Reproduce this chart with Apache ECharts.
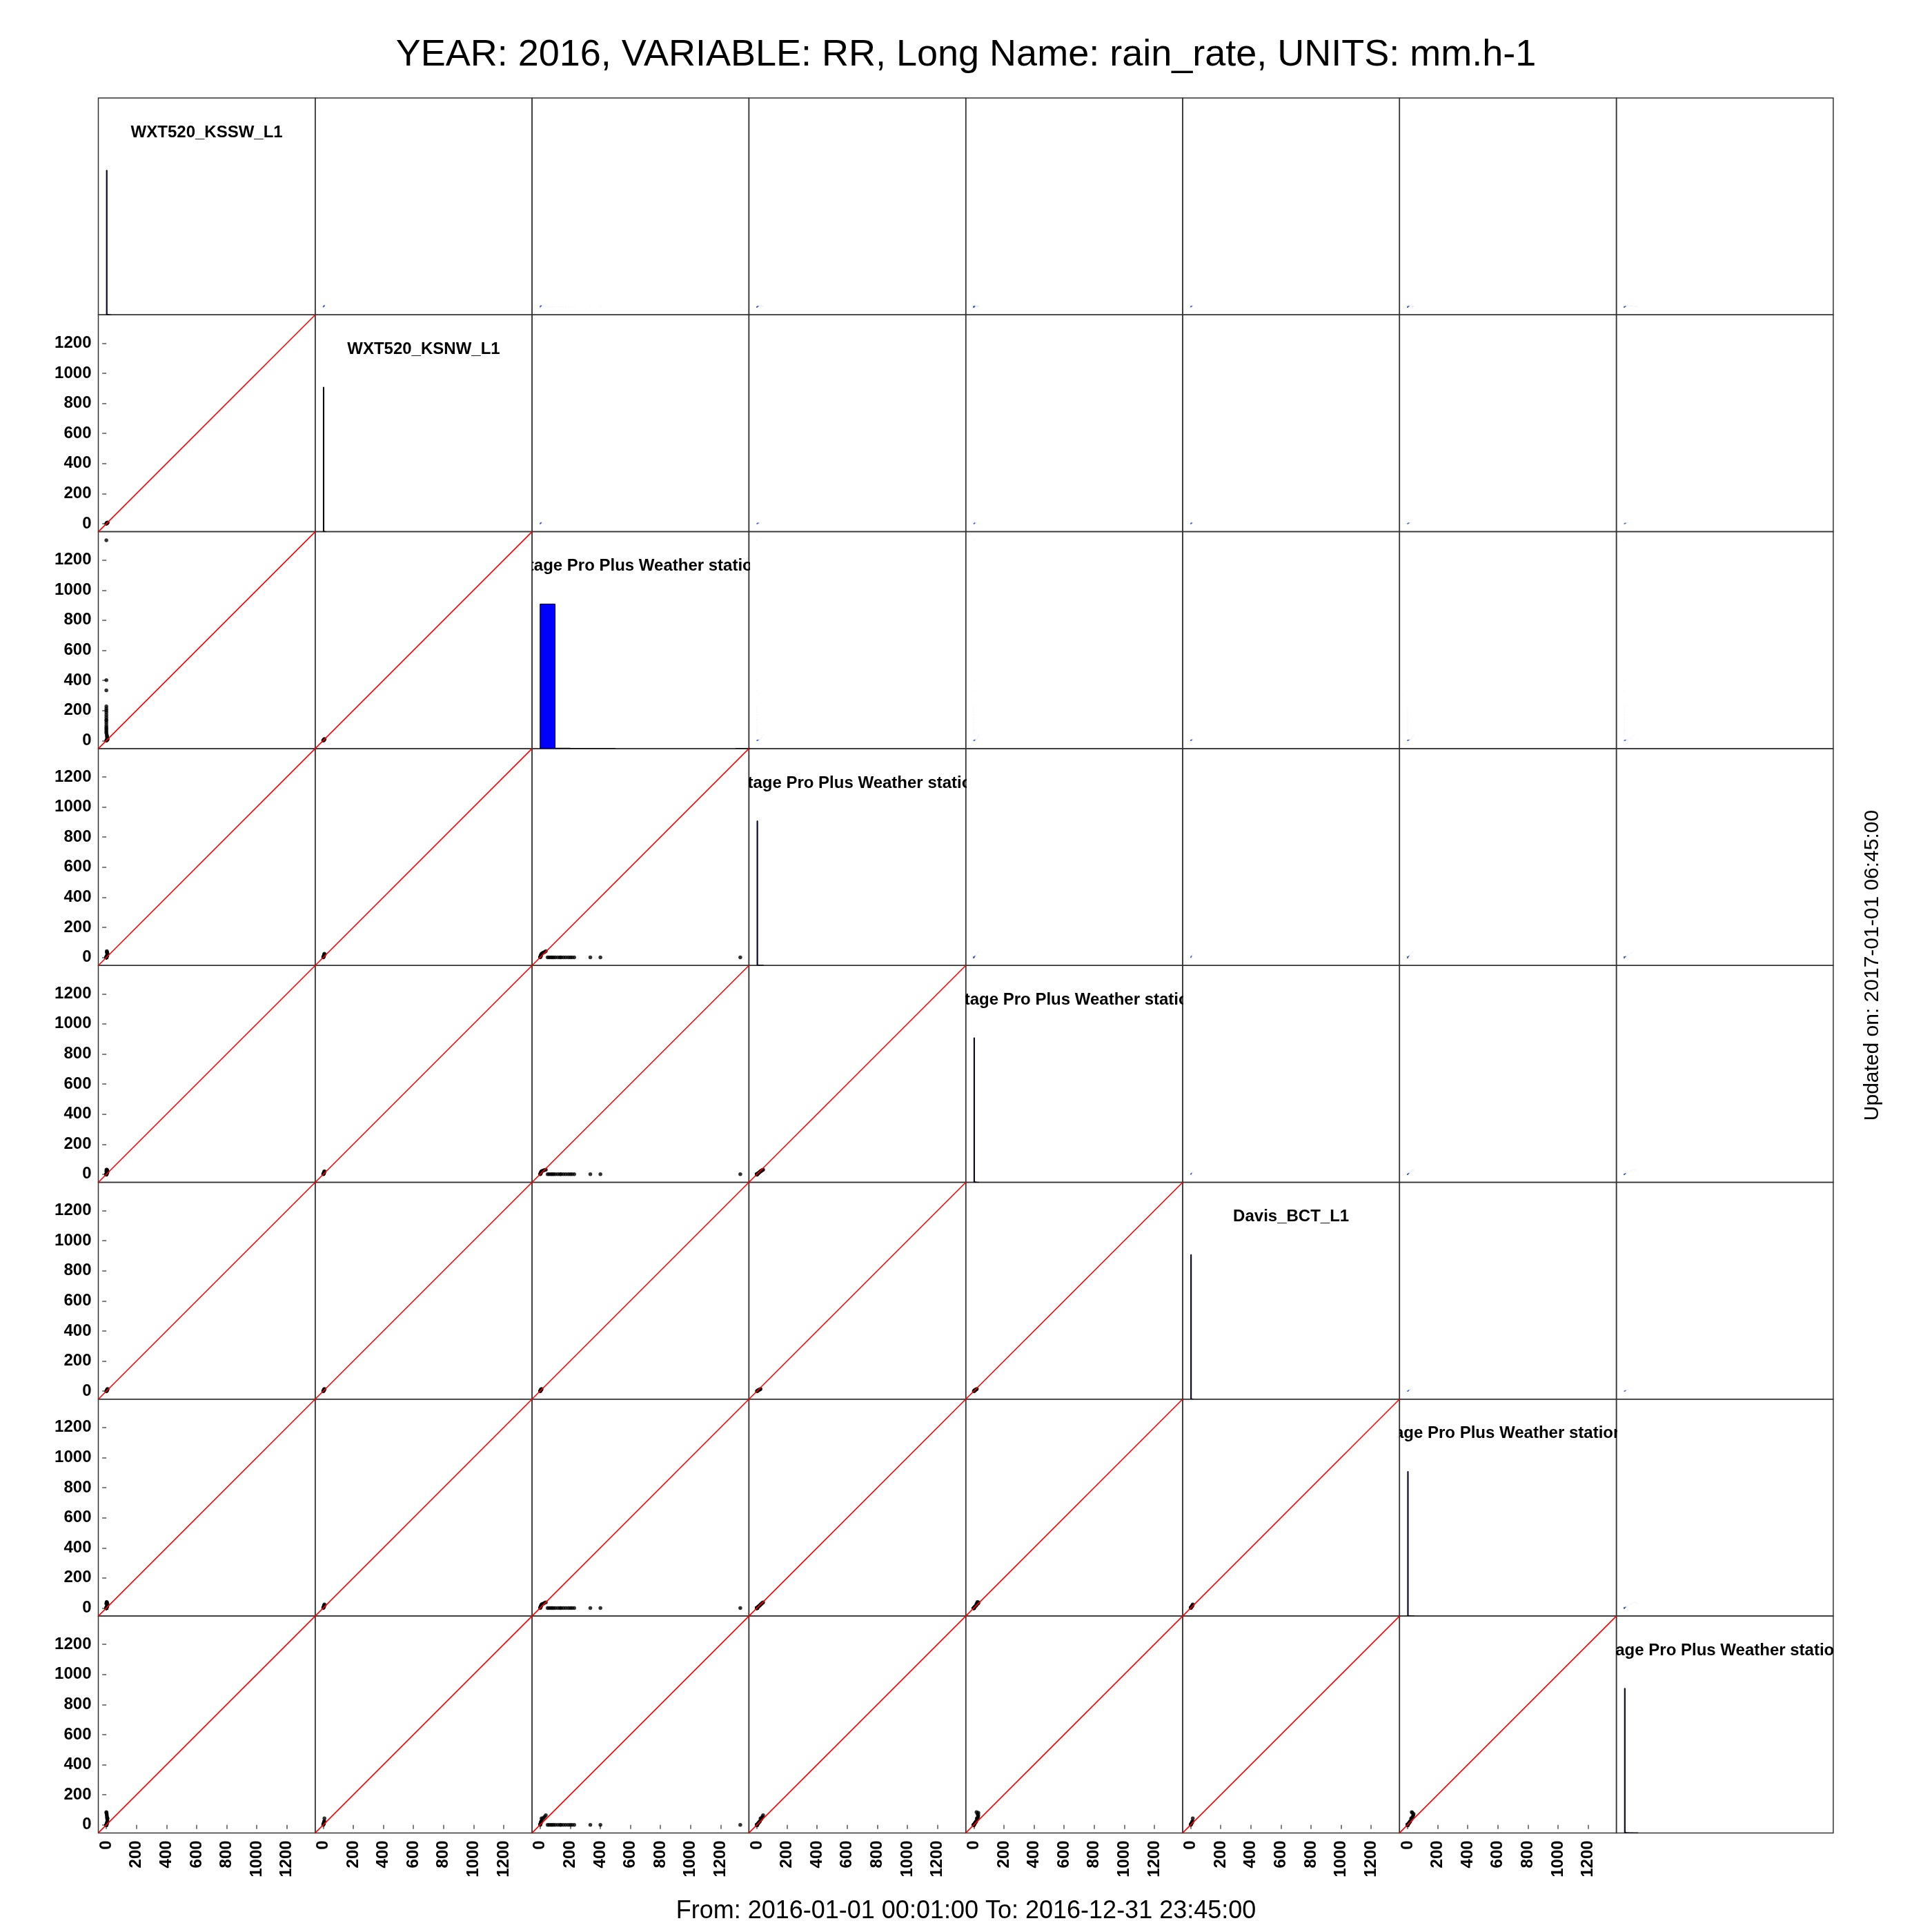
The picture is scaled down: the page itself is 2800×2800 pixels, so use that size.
<!DOCTYPE html>
<html><head><meta charset="utf-8">
<script src="https://cdn.jsdelivr.net/npm/echarts@6/dist/echarts.min.js"></script>
<style>html,body{margin:0;padding:0;background:#fff}#c{width:2800px;height:2800px}</style>
</head><body><div id="c"></div>
<script>
// ---- labels ----
const mainTitle = 'YEAR: 2016, VARIABLE: RR, Long Name: rain_rate, UNITS: mm.h-1';
const footerText = 'From: 2016-01-01 00:01:00 To: 2016-12-31 23:45:00';
const sideText = 'Updated on: 2017-01-01 06:45:00';
const stationNames = [
  'WXT520_KSSW_L1',
  'WXT520_KSNW_L1',
  'Davis Vantage Pro Plus Weather station_IMU_L1',
  'Davis Vantage Pro Plus Weather station_ISL_L1',
  'Davis Vantage Pro Plus Weather station_MR_L1',
  'Davis_BCT_L1',
  'Davis Vantage Pro Plus Weather station_BFCL_L1',
  'Davis Vantage Pro Plus Weather station_RGS_L1'
];
const tickValues = [0, 200, 400, 600, 800, 1000, 1200];
const axisMin = -53.4, axisMax = 1388.4;   // data range 0..1335 extended by 4%

// ---- rain rate samples (mm/h), one entry per time step, null = missing ----
const rrKSSW  = [0,0,0,0,0,0,0,0,0,0,0,0,0,0,0,0,0,0,   0,1,2,3,4,5,6,7,8,6,5,4,3,2,1,0];
const rrKSNW  = [null,null,null,null,null,null,null,null,null,null,null,null,null,null,null,null,null,null,
                 0,1,2,3,4,5,6,7,8,null,null,null,null,null,null,null];
const rrIMU   = [1331,401,334,227,212,200,186,170,155,140,132,118,102,90,80,71,60,50,
                 0,1,2,3,4,5,6,8,10,15,22,30,38,null,null,null];
const rrISL   = [0,0,0,0,0,0,0,0,0,0,0,0,0,0,0,0,0,0,   0,2,4,6,9,12,16,20,24,28,32,36,41,null,null,null];
const rrMR    = [0,0,0,0,0,0,0,0,0,0,0,0,0,0,0,0,0,0,   0,2,3,5,7,10,13,16,20,22,26,28,30,24,30,18];
const rrBCT   = [null,null,null,null,null,null,null,null,null,null,null,null,null,null,null,null,null,null,
                 0,1,2,4,6,8,10,12,14,null,null,null,null,null,null,null];
const rrBFCL  = [0,0,0,0,0,0,0,0,0,0,0,0,0,0,0,0,0,0,   0,2,4,6,9,12,15,18,24,26,30,34,38,40,32,28];
const rrRGS   = [0,0,0,0,0,0,0,0,0,0,0,0,0,0,0,0,0,0,   0,2,5,8,12,16,20,25,44,38,46,54,64,72,80,85];

// ---- histograms on the diagonal: [binStart, binEnd, count / max count] ----
const histKSSW = [[0,5,1],[5,10,0.004],[10,15,0.002],[15,20,0.001],[20,30,0.0005]];
const histKSNW = [[0,5,1],[5,10,0.003],[10,15,0.001],[15,20,0.0005]];
const histIMU  = [[0,100,1],[100,200,0.003],[200,300,0.001],[300,400,0.0005],[400,500,0.0005],[1300,1400,0.0005]];
const histISL  = [[0,5,1],[5,10,0.004],[10,20,0.002],[20,30,0.001],[30,45,0.0005]];
const histMR   = [[0,5,1],[5,10,0.004],[10,20,0.002],[20,35,0.0005]];
const histBCT  = [[0,5,1],[5,10,0.003],[10,20,0.001]];
const histBFCL = [[0,5,1],[5,10,0.004],[10,20,0.002],[20,45,0.0005]];
const histRGS  = [[0,5,1],[5,10,0.005],[10,30,0.002],[30,60,0.001],[60,90,0.0005]];

const allSeries = [rrKSSW, rrKSNW, rrIMU, rrISL, rrMR, rrBCT, rrBFCL, rrRGS];
const allHist = [histKSSW, histKSNW, histIMU, histISL, histMR, histBCT, histBFCL, histRGS];

// ---- layout ----
const N = 8, L0 = 142.5, T0 = 142, S = 314.3;
const FF = '"Liberation Sans", Arial, Helvetica, sans-serif';
const plain = function (v) { return String(v); };

function pairs(xs, ys) {
  const out = [];
  for (let i = 0; i < xs.length; i++) {
    if (xs[i] != null && ys[i] != null) out.push([xs[i], ys[i]]);
  }
  return out;
}

const grids = [], xAxes = [], yAxes = [], series = [];
for (let r = 0; r < N; r++) {
  for (let c = 0; c < N; c++) {
    const idx = r * N + c;
    grids.push({left: L0 + c * S, top: T0 + r * S, width: S, height: S,
      show: true, borderColor: '#333', borderWidth: 1.5, backgroundColor: 'transparent'});
    const showX = (r === N - 1 && c !== N - 1);
    const showY = (c === 0 && r >= 1);
    xAxes.push({gridIndex: idx, type: 'value', min: axisMin, max: axisMax,
      axisLine: {show: false}, splitLine: {show: false},
      axisTick: {show: showX, length: 6, lineStyle: {color: '#555', width: 1.5}, customValues: tickValues},
      axisLabel: {show: showX, customValues: tickValues, rotate: 90, margin: 11, formatter: plain,
        fontFamily: FF, fontWeight: 'bold', fontSize: 24, color: '#000'}});
    if (r === c) {
      yAxes.push({gridIndex: idx, type: 'value', min: 0, max: 1.5, show: false,
        splitLine: {show: false}});
    } else {
      yAxes.push({gridIndex: idx, type: 'value', min: axisMin, max: axisMax,
        axisLine: {show: false}, splitLine: {show: false},
        axisTick: {show: showY, length: 6, lineStyle: {color: '#555', width: 1.5}, customValues: tickValues},
        axisLabel: {show: showY, customValues: tickValues, margin: 10, formatter: plain,
          fontFamily: FF, fontWeight: 'bold', fontSize: 24, color: '#000'}});
    }

    if (r === c) {
      // histogram
      series.push({type: 'custom', xAxisIndex: idx, yAxisIndex: idx, silent: true, clip: true,
        data: allHist[r],
        renderItem: function (params, api) {
          const p0 = api.coord([api.value(0), api.value(2)]);
          const p1 = api.coord([api.value(1), 0]);
          return {type: 'rect',
            shape: {x: p0[0], y: p0[1], width: Math.max(p1[0] - p0[0], 0.5), height: p1[1] - p0[1]},
            style: {fill: '#0000ff', stroke: '#000', lineWidth: 1}};
        }});
      // station name (clipped to the panel)
      const nm = stationNames[r];
      series.push({type: 'custom', xAxisIndex: idx, yAxisIndex: idx, silent: true, clip: true,
        data: [[0, 0]],
        renderItem: function (params, api) {
          const cs = params.coordSys;
          return {type: 'text', x: cs.x + cs.width / 2, y: cs.y + 50,
            style: {text: nm, fill: '#000', font: 'bold 24px ' + FF,
              align: 'center', verticalAlign: 'middle', textAlign: 'center', textVerticalAlign: 'middle'}};
        }});
    } else if (r > c) {
      series.push({type: 'scatter', xAxisIndex: idx, yAxisIndex: idx, silent: true,
        symbol: 'circle', symbolSize: 5.5, itemStyle: {color: '#000'},
        data: pairs(allSeries[c], allSeries[r])});
      series.push({type: 'line', xAxisIndex: idx, yAxisIndex: idx, silent: true,
        showSymbol: false, symbol: 'none', lineStyle: {color: '#ff0000', width: 1.6},
        data: [[axisMin, axisMin], [axisMax, axisMax]]});
    } else {
      series.push({type: 'scatter', xAxisIndex: idx, yAxisIndex: idx, silent: true,
        symbol: 'rect', symbolSize: 1.5,
        itemStyle: {color: function (p) {
          return (p.value[0] < 10 && p.value[1] < 10) ? '#4a66c8' : 'rgba(200,212,248,0.3)';
        }},
        data: pairs(allSeries[c], allSeries[r])});
    }
  }
}

const chart = echarts.init(document.getElementById('c'), null, {renderer: 'canvas'});
chart.setOption({
  animation: false,
  backgroundColor: '#fff',
  grid: grids, xAxis: xAxes, yAxis: yAxes, series: series,
  graphic: [
    {type: 'text', x: 1400, y: 80, silent: true,
      style: {text: mainTitle, fill: '#000', font: '54px ' + FF,
        align: 'center', verticalAlign: 'middle', textAlign: 'center', textVerticalAlign: 'middle'}},
    {type: 'text', x: 1400, y: 2770, silent: true,
      style: {text: footerText, fill: '#000', font: '36px ' + FF,
        align: 'center', verticalAlign: 'middle', textAlign: 'center', textVerticalAlign: 'middle'}},
    {type: 'text', x: 2714, y: 1399, rotation: Math.PI / 2, silent: true,
      style: {text: sideText, fill: '#000', font: '30px ' + FF,
        align: 'center', verticalAlign: 'middle', textAlign: 'center', textVerticalAlign: 'middle'}}
  ]
});
</script></body></html>
